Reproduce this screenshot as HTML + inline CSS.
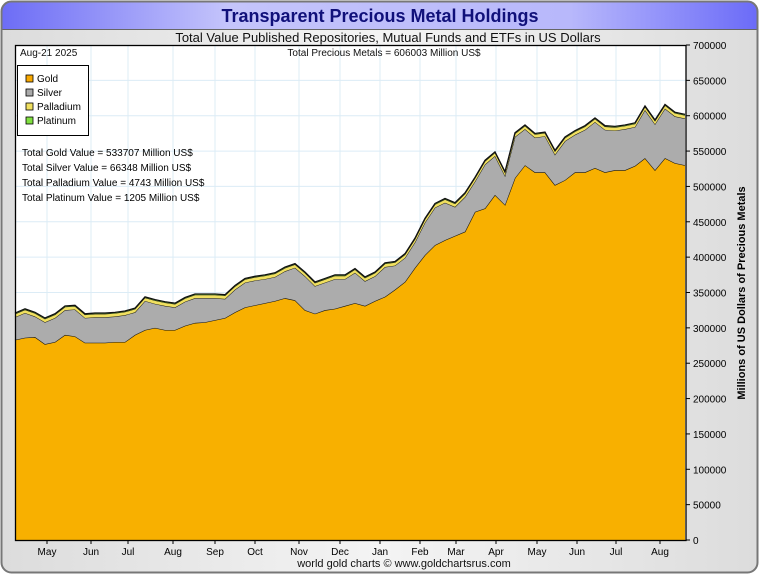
<!DOCTYPE html>
<html><head><meta charset="utf-8"><style>
body{margin:0;background:#fff;font-family:"Liberation Sans",sans-serif}
svg text{font-family:"Liberation Sans",sans-serif}
</style></head><body>
<svg id="chart" width="760" height="575" viewBox="0 0 760 575">
<defs>
<linearGradient id="hdr" x1="0" x2="1"><stop offset="0" stop-color="#6c6cf6"/><stop offset="0.3" stop-color="#c4c4fb"/><stop offset="0.75" stop-color="#b8b8fb"/><stop offset="1" stop-color="#6a6af8"/></linearGradient>
<linearGradient id="bdy" x1="0" x2="1"><stop offset="0" stop-color="#dcdcdc"/><stop offset="0.5" stop-color="#f4f4f4"/><stop offset="1" stop-color="#dcdcdc"/></linearGradient>
<clipPath id="frameclip"><rect x="1" y="1" width="757" height="572" rx="10"/></clipPath>
</defs>
<g clip-path="url(#frameclip)">
<rect x="0" y="0" width="760" height="575" fill="url(#bdy)"/>
<rect x="0" y="0" width="760" height="29" fill="url(#hdr)"/>
<line x1="0" y1="29.5" x2="760" y2="29.5" stroke="#666"/>
</g>
<rect x="1.5" y="1.5" width="756" height="571" rx="10" fill="none" stroke="#777" stroke-width="2"/>
<text x="380" y="22" text-anchor="middle" font-size="18" font-weight="bold" fill="#10107a">Transparent Precious Metal Holdings</text>
<text x="388" y="42" text-anchor="middle" font-size="13" fill="#111">Total Value Published Repositories, Mutual Funds and ETFs in US Dollars</text>
<rect x="15" y="45" width="671" height="495" fill="#fff"/>
<g id="grid"></g>
<g id="areas"></g>
<rect x="15.5" y="45.5" width="670.5" height="495" fill="none" stroke="#000" stroke-width="1.3"/>
<g id="yaxis"></g>
<g id="xaxis"></g>
<text x="20" y="56" font-size="10" fill="#111">Aug-21  2025</text>
<text x="384" y="56" text-anchor="middle" font-size="10" fill="#111">Total Precious Metals = 606003 Million US$</text>
<g>
<rect x="17.5" y="65.5" width="71" height="70" fill="#fff" stroke="#000"/>
<rect x="26" y="75" width="7" height="7" fill="#f8a800" stroke="#000" stroke-width="0.8"/><text x="37" y="82" font-size="10">Gold</text>
<rect x="26" y="89" width="7" height="7" fill="#aaa" stroke="#000" stroke-width="0.8"/><text x="37" y="96" font-size="10">Silver</text>
<rect x="26" y="103" width="7" height="7" fill="#f0e060" stroke="#000" stroke-width="0.8"/><text x="37" y="110" font-size="10">Palladium</text>
<rect x="26" y="117" width="7" height="7" fill="#80e040" stroke="#000" stroke-width="0.8"/><text x="37" y="124" font-size="10">Platinum</text>
</g>
<text x="22" y="156" font-size="10">Total Gold Value = 533707 Million US$</text>
<text x="22" y="171" font-size="10">Total Silver Value = 66348 Million US$</text>
<text x="22" y="186" font-size="10">Total Palladium Value = 4743 Million US$</text>
<text x="22" y="201" font-size="10">Total Platinum Value = 1205 Million US$</text>
<text transform="translate(745,293) rotate(-90)" text-anchor="middle" font-size="11" font-weight="bold">Millions of US Dollars of Precious Metals</text>
<text x="404" y="567" text-anchor="middle" font-size="11" fill="#111">world gold charts © www.goldchartsrus.com</text>
</svg>
<script>
const gold=[283,286,287,277,280,290,288,279,279,279,280,280,290,297,300,297,297,303,307,308,311,314,322,329,332,335,338,342,339,325,320,325,327,331,335,331,338,344,354,365,385,403,417,424,430,436,464,469,488,474,512,530,520,520,502,509,520,520,526,520,523,523,529,540,523,540,533,530];
const silver=[32,35,29,31,34,35,38,35,36,36,36,38,32,41,34,34,32,34,35,34,31,27,32,35,35,34,34,38,46,48,39,39,42,38,43,35,35,42,34,34,36,46,53,53,41,49,43,62,55,41,58,51,49,51,43,55,53,60,65,60,56,58,55,68,65,70,66,66];
const palladium=gold.map(()=>4.7);
const platinum=gold.map(()=>1.2);
const monthLabels=["May","Jun","Jul","Aug","Sep","Oct","Nov","Dec","Jan","Feb","Mar","Apr","May","Jun","Jul","Aug"];
const monthIdx=[3.2,7.6,11.3,15.8,20,24,28.4,32.5,36.5,40.5,44.1,48.1,52.2,56.2,60.1,64.5];
const yTicks=[0,50000,100000,150000,200000,250000,300000,350000,400000,450000,500000,550000,600000,650000,700000];

const NS="http://www.w3.org/2000/svg";
const X0=15,X1=685,Y0=540,Y1=45,YMAX=700;
const xs=i=>X0+i*(X1-X0)/(gold.length-1);
const ys=v=>Y0-v/YMAX*(Y0-Y1);
function mk(tag,attrs,parent){const e=document.createElementNS(NS,tag);for(const k in attrs)e.setAttribute(k,attrs[k]);parent.appendChild(e);return e;}
const grid=document.getElementById('grid'),areas=document.getElementById('areas'),ya=document.getElementById('yaxis'),xa=document.getElementById('xaxis');
yTicks.forEach(t=>{const y=ys(t/1000);
 if(t>0&&t<700000){const g=mk('line',{x1:X0,x2:686,y1:y,y2:y,stroke:'#dcecf6','stroke-width':1},grid);
 
 }
 mk('line',{x1:686,x2:690,y1:y,y2:y,stroke:'#000'},ya);
 const tx=mk('text',{x:693,y:y+4,'font-size':10},ya);tx.textContent=t;
 
 
});
monthIdx.forEach((m,k)=>{const x=xs(m);
 const g=mk('line',{x1:x,x2:x,y1:Y1,y2:Y0,stroke:'#dcecf6','stroke-width':1},grid);
 
 
 mk('line',{x1:x,x2:x,y1:Y0,y2:Y0+4,stroke:'#000'},xa);
 const tx=mk('text',{x:x,y:555,'font-size':10,'text-anchor':'middle'},xa);tx.textContent=monthLabels[k];
 
 
});
const series=[['gold',gold,'#f8b000'],['silver',silver,'#acacac'],['palladium',palladium,'#f0e060'],['platinum',platinum,'#80e040']];
let base=gold.map(()=>0);
series.forEach(([name,vals,col])=>{
 const top=base.map((b,i)=>b+vals[i]);
 let d='M'+xs(0)+','+ys(top[0]);
 for(let i=1;i<top.length;i++)d+='L'+xs(i)+','+ys(top[i]);
 for(let i=top.length-1;i>=0;i--)d+='L'+xs(i)+','+ys(base[i]);
 d+='Z';
 const p=mk('path',{d:d,fill:col,stroke:'none'},areas);
 
 
 let l='M'+xs(0)+','+ys(top[0]);
 for(let i=1;i<top.length;i++)l+='L'+xs(i)+','+ys(top[i]);
 const ln=mk('path',{d:l,fill:'none',stroke:'#111','stroke-width':name==='platinum'?1.3:(name==='gold'?1.1:0.9)},areas);
 
 
 base=top;
});
</script>
</body></html>
